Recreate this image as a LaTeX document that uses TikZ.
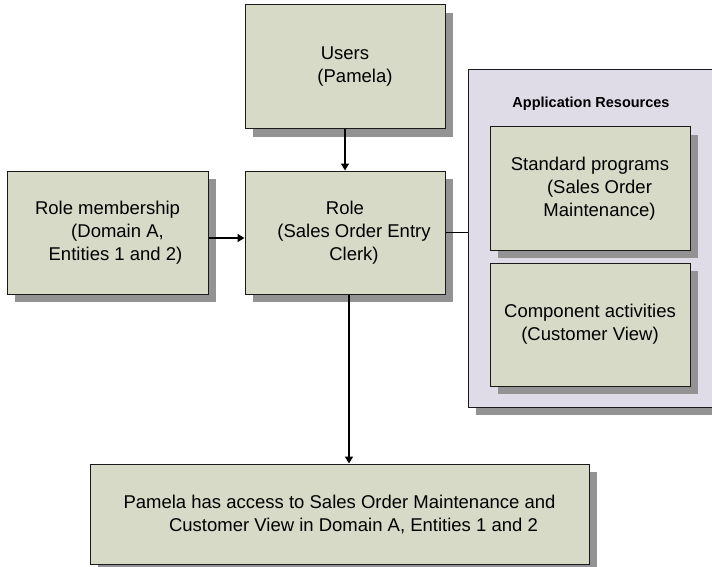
\documentclass[tikz,border=0pt]{standalone}
\usepackage{fontspec}
\setmainfont{Liberation Sans}
\usetikzlibrary{shadows,arrows.meta}
\definecolor{boxfill}{HTML}{D8DAC8}
\definecolor{panelfill}{HTML}{DFDCE7}
\definecolor{shadowc}{HTML}{939393}
\definecolor{edgec}{HTML}{1A1A1A}
\tikzset{
  shad/.style={drop shadow={shadow xshift=8pt,shadow yshift=-8pt,fill=shadowc,opacity=1}},
  boxnode/.style={shad,draw=edgec,line width=1pt,fill=boxfill,inner sep=0pt,align=center,
    font=\fontsize{18.5}{23}\selectfont,text=black},
  panelnode/.style={shad,draw=edgec,line width=1pt,fill=panelfill,inner sep=0pt},
  titlenode/.style={font=\fontsize{14.5}{17}\selectfont\bfseries,inner sep=0pt},
  conn/.style={draw=black,line width=1.5pt},
  arr/.style={conn,-{Triangle[length=7pt,width=8pt]}}
}
\begin{document}
\begin{tikzpicture}[x=1pt,y=-1pt]
\useasboundingbox (0,0) rectangle (712,567);
\node[boxnode,minimum width=200pt,minimum height=124pt] (users) at (345,67)
  {Users\\\hspace*{20pt}(Pamela)};
\node[boxnode,minimum width=200pt,minimum height=123pt] (role) at (345,232.5)
  {Role\\\hspace*{18pt}(Sales Order Entry\\\hspace*{18pt}Clerk)};
\node[boxnode,minimum width=201pt,minimum height=123pt] (rm) at (107.5,232.5)
  {Role membership\\\hspace*{20pt}(Domain A,\\\hspace*{16pt}Entities 1 and 2)};
\node[panelnode,minimum width=246pt,minimum height=337pt] (panel) at (591,238.5) {};
\node[titlenode] (title) at (591,104) {Application Resources};
\node[boxnode,minimum width=200pt,minimum height=123pt] (sp) at (590,188.5)
  {Standard programs\\\hspace*{19pt}(Sales Order\\\hspace*{19pt}Maintenance)};
\node[boxnode,minimum width=200pt,minimum height=123pt] (ca) at (590,324.5)
  {Component activities\\(Customer View)};
\node[boxnode,minimum width=499pt,minimum height=100pt] (final) at (339.5,514)
  {Pamela has access to Sales Order Maintenance and\\\hspace*{28pt}Customer View in Domain A, Entities 1 and 2};
\draw[arr] (users.south) -- (role.north);
\draw[arr] ([yshift=-5.5pt]rm.east) -- ([yshift=-5.5pt]role.west);
\draw[conn] (role.east) -- (role.east -| panel.west);
\draw[arr] ([xshift=4pt]role.south) -- ([xshift=4pt]role.south |- final.north);
\end{tikzpicture}
\end{document}
